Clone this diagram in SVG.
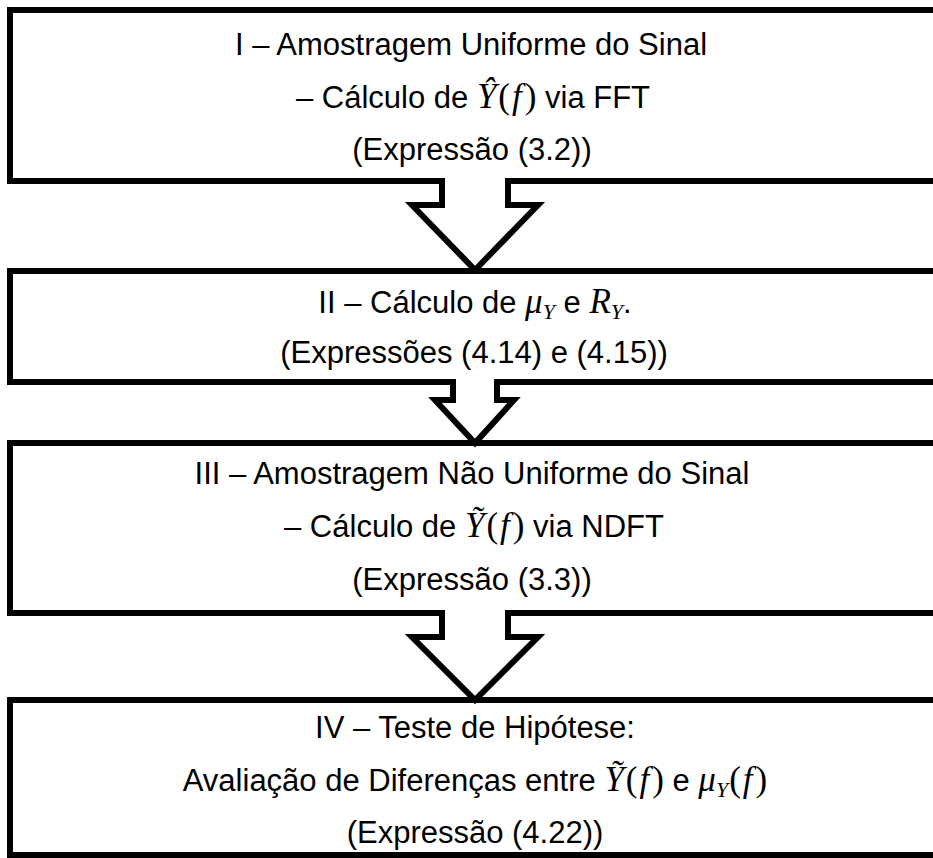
<svg xmlns="http://www.w3.org/2000/svg" width="933" height="858" viewBox="0 0 933 858">
<style>
.box{fill:#fff;stroke:#000;stroke-width:6;stroke-linejoin:miter}
.arr{fill:#fff;stroke:#000;stroke-width:6;stroke-linejoin:miter;stroke-miterlimit:10}
text{font-family:"Liberation Sans",Arial,sans-serif;font-size:31px;fill:#000;text-anchor:middle}
.m{font-family:"Liberation Serif","Times New Roman",serif;font-style:italic;font-size:35px}
.u{font-family:"Liberation Serif","Times New Roman",serif;font-style:normal;font-size:35px}
.s{font-family:"Liberation Serif","Times New Roman",serif;font-style:italic;font-size:22px}
</style>
<rect width="933" height="858" fill="#fff"/>
<g id="node1">
<rect class="box" x="10" y="10" width="960" height="171"/>
<text x="471" y="55">I – Amostragem Uniforme do Sinal</text>
<text x="473" y="108">– Cálculo de <tspan class="m">Ŷ</tspan><tspan class="u" dx="2">(</tspan><tspan class="m" dx="2">f</tspan><tspan class="u" dx="3">)</tspan> via FFT</text>
<text x="472" y="160">(Expressão (3.2))</text>
</g>
<g id="node2">
<rect class="box" x="10" y="271" width="960" height="111"/>
<text x="475" y="313">II – Cálculo de  <tspan class="m">μ</tspan><tspan class="s" dy="6">Y</tspan><tspan dy="-6"> e </tspan><tspan class="m">R</tspan><tspan class="s" dy="6">Y</tspan><tspan dy="-6">.</tspan></text>
<text x="474" y="363">(Expressões (4.14) e (4.15))</text>
</g>
<g id="node3">
<rect class="box" x="10" y="443" width="960" height="170"/>
<text x="472" y="484">III – Amostragem Não Uniforme do Sinal</text>
<text x="474" y="537">– Cálculo de <tspan class="m">Ỹ</tspan><tspan class="u" dx="2">(</tspan><tspan class="m" dx="2">f</tspan><tspan class="u" dx="3">)</tspan> via NDFT</text>
<text x="472" y="590">(Expressão (3.3))</text>
</g>
<g id="node4">
<rect class="box" x="10" y="700" width="960" height="155"/>
<text x="475" y="738">IV – Teste de Hipótese:</text>
<text x="475" y="791">Avaliação de Diferenças entre <tspan class="m">Ỹ</tspan><tspan class="u" dx="2">(</tspan><tspan class="m" dx="2">f</tspan><tspan class="u" dx="3">)</tspan> e <tspan class="m">μ</tspan><tspan class="s" dy="6">Y</tspan><tspan class="u" dy="-6" dx="1">(</tspan><tspan class="m" dx="2">f</tspan><tspan class="u" dx="3">)</tspan></text>
<text x="475" y="843">(Expressão (4.22))</text>
</g>
<g id="connectors">
<path class="arr" d="M442,178 V205 H412 L475,270 L538,205 H508 V178"/>
<path class="arr" d="M453,379 V400 H435 L475,443 L514,400 H497 V379"/>
<path class="arr" d="M442,610 V637 H412 L475,700 L538,637 H508 V610"/>
</g>
</svg>
